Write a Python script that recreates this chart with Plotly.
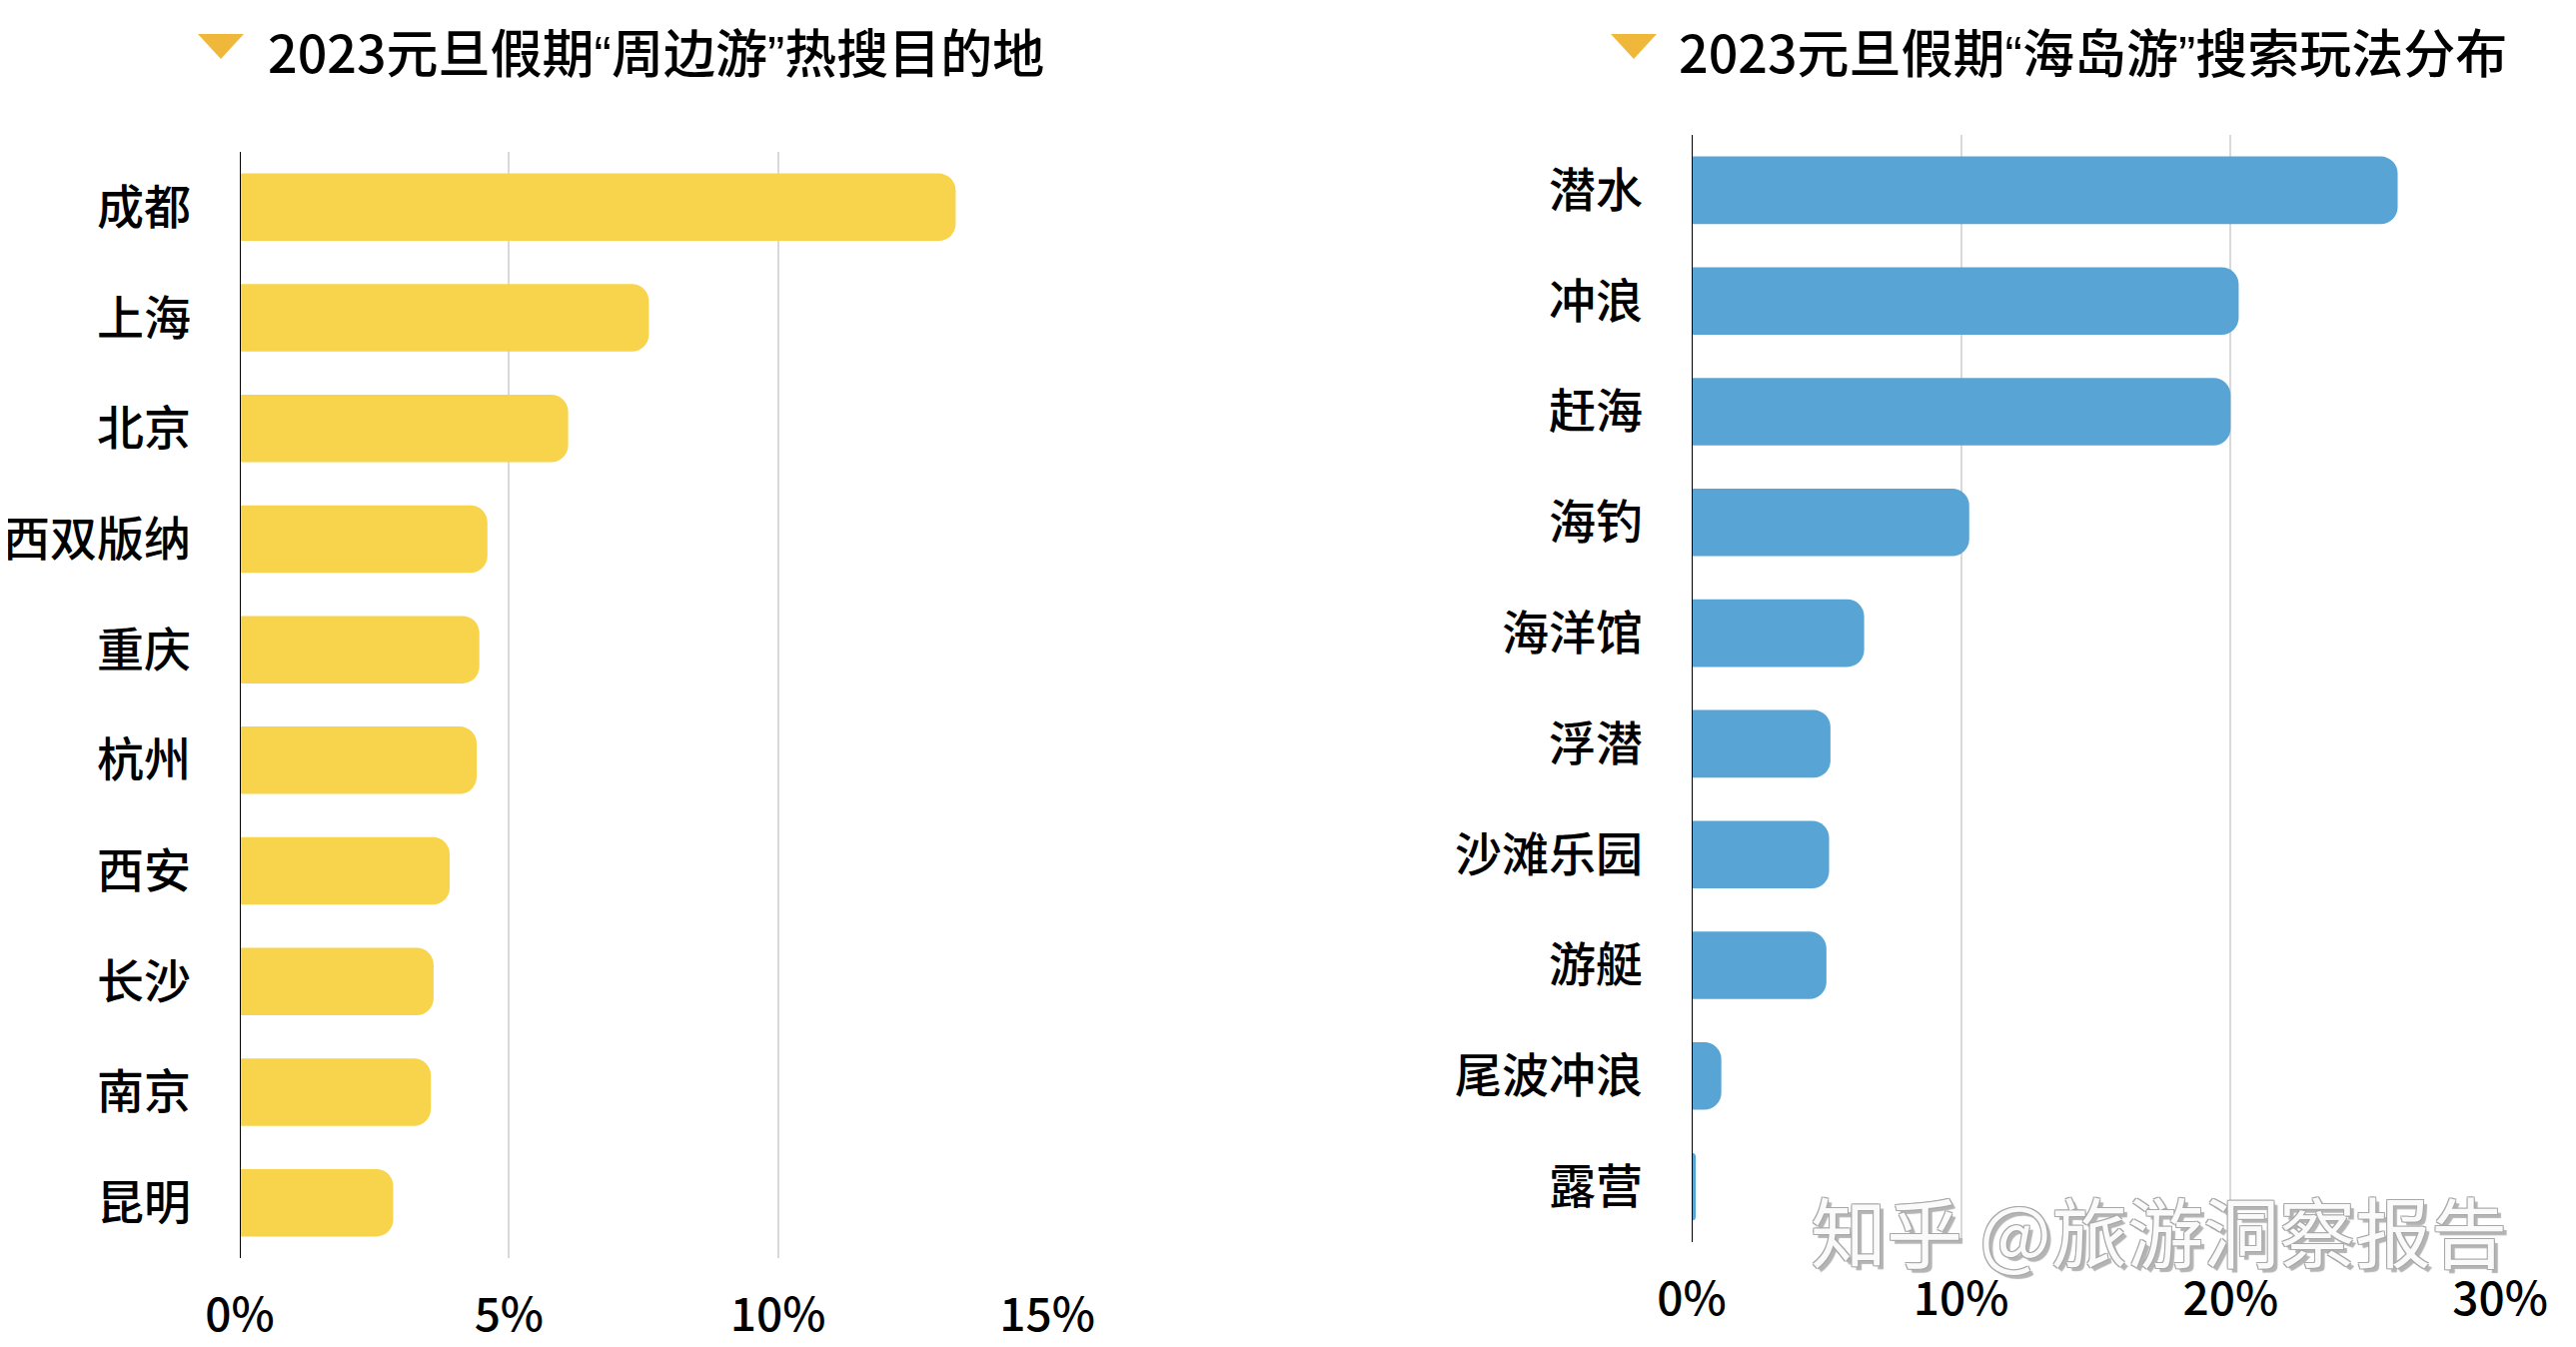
import plotly.graph_objects as go

# ---------------- data ----------------
left_title_parts = ["2023元旦假期", "“", "周边游", "”", "热搜目的地"]
left_categories = ["成都", "上海", "北京", "西双版纳", "重庆", "杭州", "西安", "长沙", "南京", "昆明"]
left_values = [13.3, 7.6, 6.1, 4.6, 4.45, 4.4, 3.9, 3.6, 3.55, 2.85]
left_tick_vals = [0, 5, 10, 15]
left_tick_text = ["0%", "5%", "10%", "15%"]

right_title_parts = ["2023元旦假期", "“", "海岛游", "”", "搜索玩法分布"]
right_categories = ["潜水", "冲浪", "赶海", "海钓", "海洋馆", "浮潜", "沙滩乐园", "游艇", "尾波冲浪", "露营"]
right_values = [26.2, 20.3, 20.0, 10.3, 6.4, 5.15, 5.1, 5.0, 1.1, 0.15]
right_tick_vals = [0, 10, 20, 30]
right_tick_text = ["0%", "10%", "20%", "30%"]

watermark = "知乎 @旅游洞察报告"

# ---------------- style ----------------
FONT = "Noto Sans CJK SC"
QFONT = "Liberation Sans"
YELLOW = "#F7D44C"
BLUE = "#58A4D5"
TRI = "#EFB83B"
GRID = "#D9D9D9"

fig = go.Figure()
fig.add_trace(go.Bar(
    x=left_values, y=left_categories, orientation="h",
    marker=dict(color=YELLOW, line=dict(width=0)),
    width=0.61, xaxis="x", yaxis="y", hoverinfo="x+y",
))
fig.add_trace(go.Bar(
    x=right_values, y=right_categories, orientation="h",
    marker=dict(color=BLUE, line=dict(width=0)),
    width=0.61, xaxis="x2", yaxis="y2", hoverinfo="x+y",
))

# page body has an 8px default margin: figure is inset by 8px
OFF = 8
W, H = 2578 - 2 * OFF, 1348 - 2 * OFF

def px_x(p):
    return (p - OFF) / W

def px_y(p):
    return 1 - (p - OFF) / H

common_x = dict(
    showgrid=True, gridcolor=GRID, gridwidth=1.5, zeroline=False,
    showline=False, tickmode="array", ticks="", ticklabelstandoff=26,
    automargin=False,
    tickfont=dict(family=FONT, size=46, color="#000000", weight=500), fixedrange=True,
)
common_y = dict(
    type="category", showgrid=False, zeroline=False, showline=False,
    ticks="", ticklabelstandoff=48, range=[9.5, -0.5], automargin=False,
    tickfont=dict(family=FONT, size=47, color="#000000", weight=500), fixedrange=True,
)

fig.update_layout(
    width=W, height=H,
    margin=dict(l=0, r=0, t=0, b=0, autoexpand=False),
    paper_bgcolor="white", plot_bgcolor="white",
    showlegend=False,
    barcornerradius=17,
    xaxis=dict(domain=[px_x(240), px_x(1048)], range=[0, 15],
               tickvals=left_tick_vals, ticktext=left_tick_text, anchor="y", **common_x),
    yaxis=dict(domain=[px_y(1259), px_y(152)], anchor="x",
               categoryarray=left_categories, categoryorder="array", **common_y),
    xaxis2=dict(domain=[px_x(1693), px_x(2502)], range=[0, 30],
                tickvals=right_tick_vals, ticktext=right_tick_text, anchor="y2", **common_x),
    yaxis2=dict(domain=[px_y(1243), px_y(135)], anchor="x2",
                categoryarray=right_categories, categoryorder="array", **common_y),
)

# black axis lines at 0
fig.add_shape(type="line", xref="x", yref="y domain", x0=0, x1=0, y0=0, y1=1,
              line=dict(color="black", width=2))
fig.add_shape(type="line", xref="x2", yref="y2 domain", x0=0, x1=0, y0=0, y1=1,
              line=dict(color="black", width=2))

# titles with triangles
def tri(x_left, y_top, w=46, h=25):
    x0, x1, xm = x_left, x_left + w, x_left + w / 2
    y0, y1 = y_top, y_top + h
    return (f"M {px_x(x0)},{px_y(y0)} L {px_x(x1)},{px_y(y0)} "
            f"L {px_x(xm)},{px_y(y1)} Z")

fig.add_shape(type="path", xref="paper", yref="paper", path=tri(198, 34),
              fillcolor=TRI, line=dict(width=0))
fig.add_shape(type="path", xref="paper", yref="paper", path=tri(1612, 34),
              fillcolor=TRI, line=dict(width=0))

def title_html(parts):
    out = []
    for p in parts:
        if p in ("“", "”"):
            out.append(f'<span style="font-family:{QFONT}">{p}</span>')
        else:
            out.append(p)
    return "".join(out)

fig.add_annotation(x=px_x(266), y=px_y(50), xref="paper", yref="paper",
                   text=title_html(left_title_parts), showarrow=False,
                   xanchor="left", yanchor="middle",
                   font=dict(family=FONT, size=52, color="#000000", weight=500))
fig.add_annotation(x=px_x(1678), y=px_y(50), xref="paper", yref="paper",
                   text=title_html(right_title_parts), showarrow=False,
                   xanchor="left", yanchor="middle",
                   font=dict(family=FONT, size=52, color="#000000", weight=500))

# watermark
fig.add_annotation(x=px_x(2160), y=px_y(1230), xref="paper", yref="paper",
                   text=watermark, showarrow=False, xanchor="center", yanchor="middle",
                   font=dict(family=FONT, size=76, color="#FAFAFA",
                             shadow="-1px -1px 0 #a8a8a8, 1px -1px 0 #a8a8a8, "
                                    "-1px 1px 0 #a8a8a8, 1px 1px 0 #a8a8a8, "
                                    "4px 4px 1px #b4b4b4"))

fig.write_html("out.html")
